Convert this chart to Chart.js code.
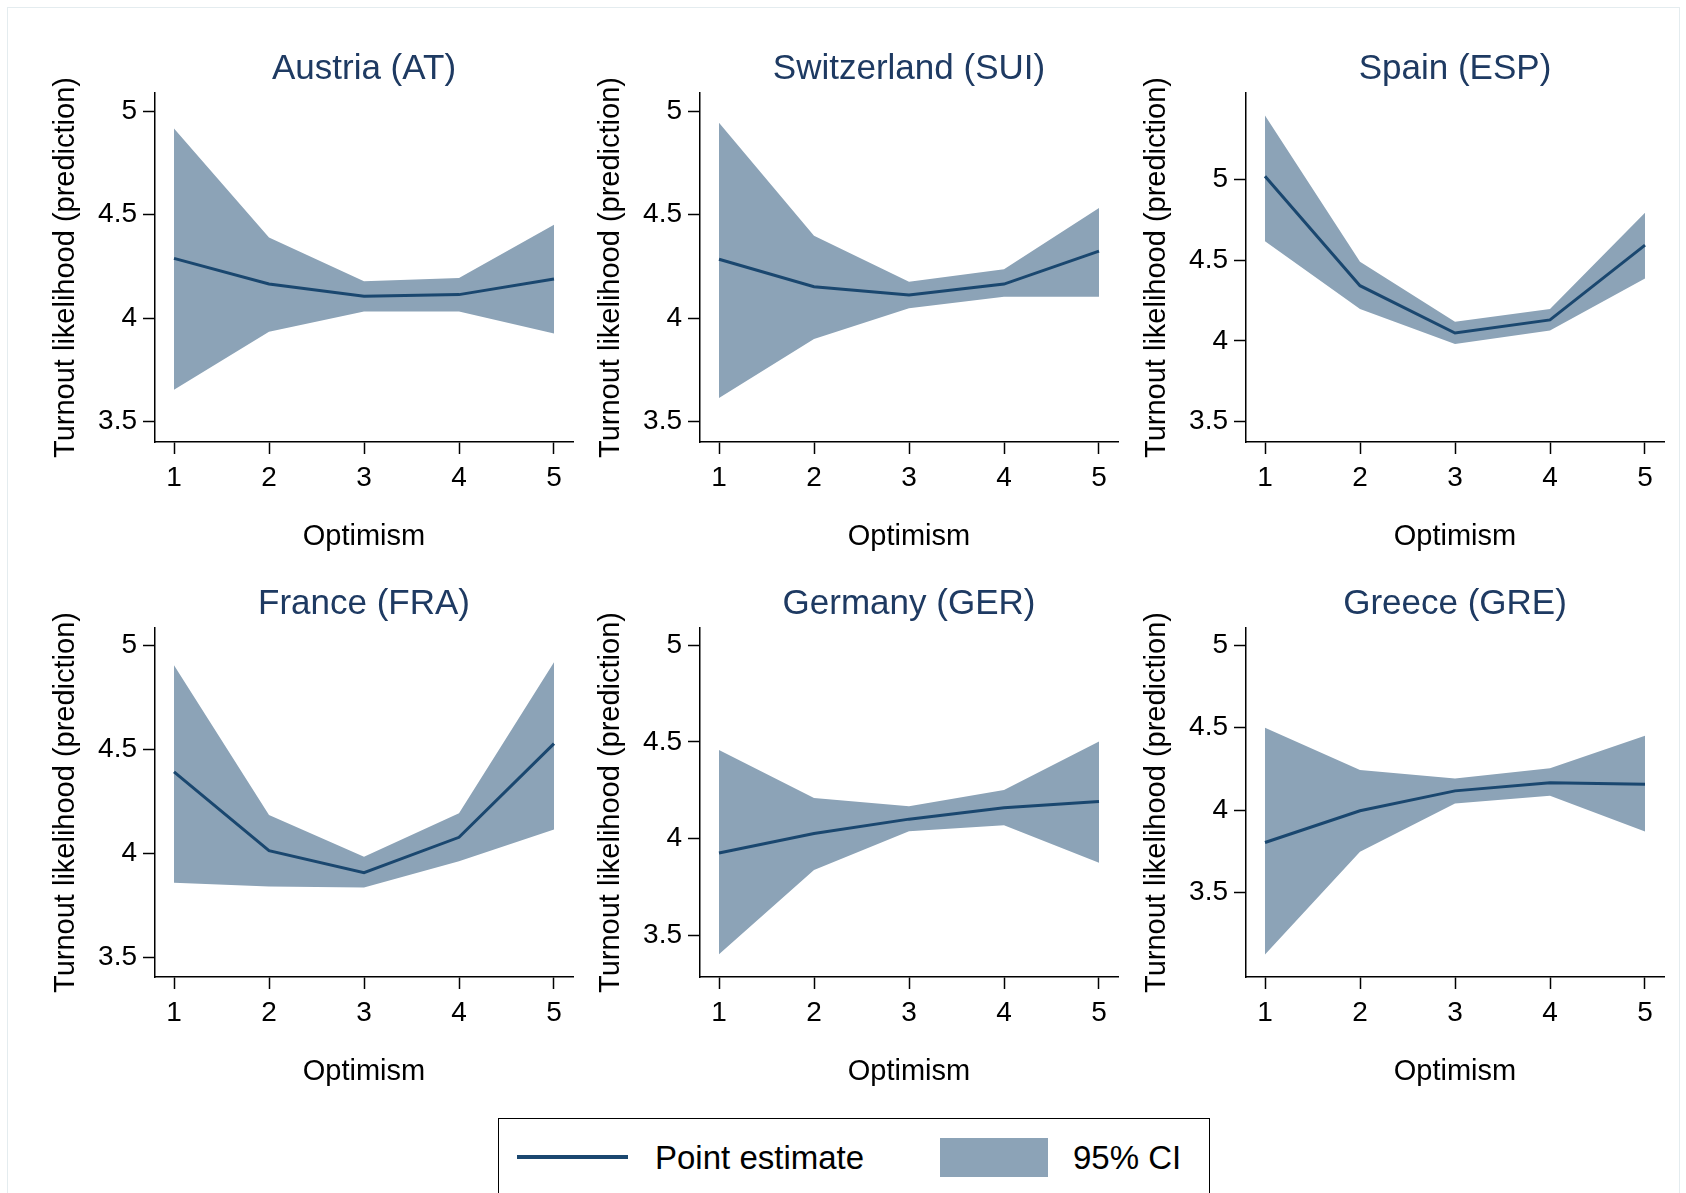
<!DOCTYPE html>
<html>
<head>
<meta charset="utf-8">
<script src="https://cdn.jsdelivr.net/npm/chart.js@4/dist/chart.umd.min.js"></script>
<style>
  body { margin: 0; background: #fff; width: 1686px; height: 1193px; overflow: hidden; position: relative; font-family: "Liberation Sans", Arial, sans-serif; }
  canvas { position: absolute; }
  .frame { position: absolute; left: 7px; top: 7px; width: 1671px; height: 1200px; border: 1px solid #e4ecef; }
  .legend-box { position: absolute; left: 498px; top: 1118px; width: 710px; height: 120px; border: 1.5px solid #000; }
  .legend-line { position: absolute; left: 517px; top: 1155px; width: 111px; height: 4px; background: #1a476f; }
  .legend-swatch { position: absolute; left: 940px; top: 1138px; width: 108px; height: 39px; background: #8ca3b7; }
  .legend-text { position: absolute; top: 1138px; font-size: 33px; line-height: 40px; color: #000; white-space: nowrap; }
</style>
</head>
<body>
<div class="frame"></div>

<canvas id="c0"></canvas>
<canvas id="c1"></canvas>
<canvas id="c2"></canvas>
<canvas id="c3"></canvas>
<canvas id="c4"></canvas>
<canvas id="c5"></canvas>

<div class="legend-box"></div>
<div class="legend-line"></div>
<div class="legend-text" style="left:655px">Point estimate</div>
<div class="legend-swatch"></div>
<div class="legend-text" style="left:1073px">95% CI</div>

<script>
// data
const optimism = [1, 2, 3, 4, 5];
const yTicks = [3.5, 4, 4.5, 5];
const countries = ['Austria (AT)', 'Switzerland (SUI)', 'Spain (ESP)', 'France (FRA)', 'Germany (GER)', 'Greece (GRE)'];

const estAT = [4.289, 4.165, 4.106, 4.114, 4.189];
const loAT  = [3.654, 3.935, 4.033, 4.033, 3.926];
const hiAT  = [4.917, 4.390, 4.178, 4.194, 4.452];

const estSUI = [4.285, 4.152, 4.112, 4.165, 4.324];
const loSUI  = [3.614, 3.900, 4.048, 4.104, 4.104];
const hiSUI  = [4.944, 4.398, 4.176, 4.237, 4.533];

const estESP = [5.020, 4.342, 4.049, 4.130, 4.593];
const loESP  = [4.617, 4.198, 3.981, 4.064, 4.387];
const hiESP  = [5.395, 4.490, 4.119, 4.198, 4.794];

const estFRA = [4.391, 4.012, 3.906, 4.076, 4.527];
const loFRA  = [3.858, 3.839, 3.834, 3.961, 4.114];
const hiFRA  = [4.904, 4.183, 3.983, 4.192, 4.918];

const estGER = [3.926, 4.027, 4.101, 4.160, 4.192];
const loGER  = [3.402, 3.838, 4.038, 4.069, 3.875];
const hiGER  = [4.459, 4.210, 4.168, 4.251, 4.502];

const estGRE = [3.804, 3.996, 4.117, 4.167, 4.157];
const loGRE  = [3.125, 3.748, 4.040, 4.087, 3.871];
const hiGRE  = [4.500, 4.244, 4.192, 4.254, 4.452];

// axis limits of each panel
const yMin = [3.402, 3.402, 3.374, 3.404, 3.285, 2.988];
const yMax = [5.088, 5.088, 5.535, 5.083, 5.089, 5.105];

const estimates = [estAT, estSUI, estESP, estFRA, estGER, estGRE];
const lowers = [loAT, loSUI, loESP, loFRA, loGER, loGRE];
const uppers = [hiAT, hiSUI, hiESP, hiFRA, hiGER, hiGRE];

// layout
const colLeft = [155, 700, 1246];
const rowTop = [93, 628];
const plotW = 418, plotH = 349;
const yAxisW = 106, xAxisH = 112, topPad = 60, rightPad = 20;

const navy = '#1a476f';
const band = '#8ca3b7';
const titleColor = '#1e3a62';
Chart.defaults.font.family = '"Liberation Sans", Arial, sans-serif';
Chart.defaults.color = '#000';

// panel title centred over the plot area
const panelTitle = {
    id: 'panelTitle',
    afterDraw(chart, args, opts) {
        const ctx = chart.ctx;
        const area = chart.chartArea;
        ctx.save();
        ctx.font = '35px "Liberation Sans", Arial, sans-serif';
        ctx.fillStyle = titleColor;
        ctx.textAlign = 'center';
        ctx.textBaseline = 'alphabetic';
        ctx.fillText(opts.text, (area.left + area.right) / 2, area.top - 14);
        ctx.restore();
    }
};

function points(values) {
    return optimism.map((x, i) => ({x: x, y: values[i]}));
}

function makePanel(i) {
    const canvas = document.getElementById('c' + i);
    const col = i % 3, row = Math.floor(i / 3);
    canvas.width = yAxisW + plotW + rightPad;
    canvas.height = topPad + plotH + xAxisH;
    canvas.style.left = (colLeft[col] - yAxisW) + 'px';
    canvas.style.top = (rowTop[row] - topPad) + 'px';

    new Chart(canvas, {
        type: 'line',
        data: {
            datasets: [
                // lower order is painted last, so the estimate sits on the band
                {data: points(lowers[i]), borderWidth: 0, pointRadius: 0, fill: false, order: 2},
                {data: points(uppers[i]), borderWidth: 0, pointRadius: 0, fill: '-1', backgroundColor: band, order: 1},
                {data: points(estimates[i]), borderColor: navy, borderWidth: 3, pointRadius: 0, fill: false, order: 0}
            ]
        },
        options: {
            responsive: false,
            animation: false,
            layout: {padding: {left: 0, top: topPad, right: rightPad, bottom: 0}},
            plugins: {
                legend: {display: false},
                tooltip: {enabled: false},
                panelTitle: {text: countries[i]}
            },
            scales: {
                x: {
                    type: 'linear',
                    min: 0.8,
                    max: 5.2,
                    afterBuildTicks: (s) => { s.ticks = optimism.map(v => ({value: v})); },
                    afterFit: (s) => { s.height = xAxisH; },
                    ticks: {font: {size: 28}, padding: 7, maxRotation: 0, callback: v => String(v)},
                    grid: {drawOnChartArea: false, drawTicks: true, tickLength: 12, tickWidth: 1.5, tickColor: '#000'},
                    border: {display: true, color: '#000', width: 1.5},
                    title: {display: true, text: 'Optimism', font: {size: 29}, color: '#000', padding: 0}
                },
                y: {
                    type: 'linear',
                    min: yMin[i],
                    max: yMax[i],
                    afterBuildTicks: (s) => { s.ticks = yTicks.map(v => ({value: v})); },
                    afterFit: (s) => { s.width = yAxisW; },
                    ticks: {font: {size: 28}, padding: 6, callback: v => String(v)},
                    grid: {drawOnChartArea: false, drawTicks: true, tickLength: 12, tickWidth: 1.5, tickColor: '#000'},
                    border: {display: true, color: '#000', width: 1.5},
                    title: {display: true, text: 'Turnout likelihood (prediction)', font: {size: 29}, color: '#000', padding: 0}
                }
            }
        },
        plugins: [panelTitle]
    });
}

for (let i = 0; i < 6; i++) {
    makePanel(i);
}
</script>
</body>
</html>
